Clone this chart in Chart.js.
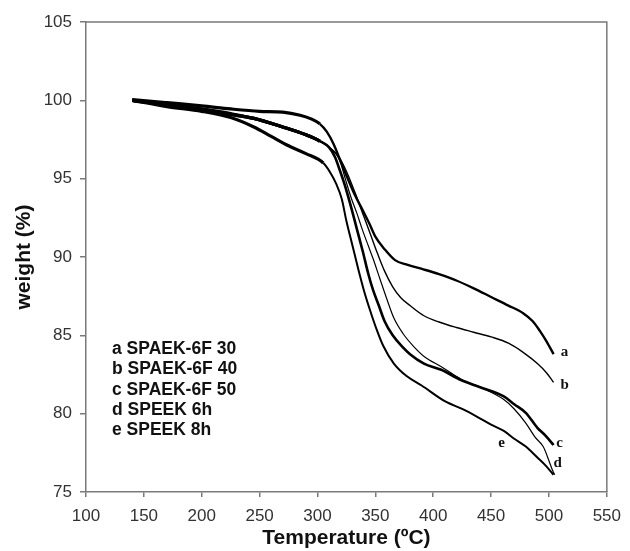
<!DOCTYPE html>
<html>
<head>
<meta charset="utf-8">
<script src="https://cdn.jsdelivr.net/npm/chart.js@4.4.1/dist/chart.umd.min.js"></script>
<style>
html,body{margin:0;padding:0;background:#fff;}
#wrap{width:630px;height:551px;}
</style>
</head>
<body>
<div id="wrap"><canvas id="c" width="630" height="551"></canvas></div>
<script>
// ---- data ----
const xTicks = [100,150,200,250,300,350,400,450,500,550];
const yTicks = [75,80,85,90,95,100,105];

const tempA   = [140,170,200,225,250,270,285,295,302,308,314,319,325,332,339,345,350,358,367,378,392,405,420,435,450,465,478,486,492,498,504];
const weightA = [100.05,99.85,99.65,99.45,99.3,99.25,99.05,98.8,98.5,98.0,97.2,96.3,95.2,94.0,93.0,92.1,91.3,90.5,89.8,89.5,89.2,88.9,88.5,88.0,87.45,86.9,86.4,85.9,85.3,84.6,83.8];

const tempB   = [140,170,200,225,245,270,290,302,312,320,326,333,340,346,352,358,365,372,380,392,405,420,435,450,465,478,490,498,504];
const weightB = [100.0,99.75,99.45,99.15,98.85,98.3,97.8,97.4,96.9,96.2,95.3,94.0,92.6,91.4,90.2,89.1,88.1,87.4,86.9,86.25,85.85,85.5,85.2,84.9,84.5,83.9,83.2,82.6,82.0];

const tempC   = [140,170,200,225,245,270,290,302,310,315,319,324,329,334,339,344,348,353,358,365,373,380,392,407,424,440,461,470,480,490,497,504];
const weightC = [100.0,99.7,99.4,99.1,98.85,98.3,97.8,97.4,97.0,96.4,95.6,94.5,93.2,91.8,90.4,88.9,87.9,86.9,85.9,85.0,84.3,83.8,83.2,82.8,82.15,81.7,81.1,80.6,80.05,79.1,78.6,78.0];

const tempD   = [140,170,200,225,245,270,290,302,310,316,320,324,329,334,339,344,348,354,360,366,374,383,393,407,424,440,461,470,480,488,495,500,503,505];
const weightD = [100.0,99.7,99.4,99.1,98.85,98.3,97.8,97.4,97.0,96.6,96.0,95.0,93.8,92.8,91.7,90.7,89.9,88.6,87.3,86.1,85.1,84.3,83.6,83.0,82.2,81.7,80.9,80.3,79.4,78.5,77.9,77.0,76.4,76.1];

const tempE   = [140,170,200,225,245,260,275,290,305,311,316,321,325,330,335,340,345,351,357,366,377,390,410,425,438,450,461,470,480,490,497,504];
const weightE = [100.0,99.6,99.3,98.9,98.3,97.7,97.1,96.6,96.0,95.4,94.7,93.7,92.3,90.8,89.3,87.9,86.7,85.4,84.3,83.2,82.4,81.8,80.8,80.3,79.8,79.3,78.9,78.4,77.9,77.2,76.7,76.1];

const seriesNames = ['a SPAEK-6F 30','b SPAEK-6F 40','c SPAEK-6F 50','d SPEEK 6h','e SPEEK 8h'];
const endLabels = ['a','b','c','d','e'];

// ---- chart ----
function pts(t,w){ return t.map((v,i)=>({x:v,y:w[i]})); }
const widths = [2.4,1.4,2.6,1.2,2.0];
const sets = [[tempA,weightA],[tempB,weightB],[tempC,weightC],[tempD,weightD],[tempE,weightE]];

const datasets = sets.map((s,i)=>({
  label: seriesNames[i],
  data: pts(s[0],s[1]),
  borderColor: '#000',
  borderWidth: widths[i],
  pointRadius: 0,
  showLine: true,
  fill: false,
  cubicInterpolationMode: 'monotone',
  segment: {
    borderWidth: c => (c.p0.parsed.x < 300 ? 3.2 : widths[i])
  }
}));

const AXIS = '#7a7a7a';
const TICKFONT = {family: '"Liberation Sans", Arial, sans-serif', size: 17};
const TITLEFONT = {family: '"Liberation Sans", Arial, sans-serif', size: 21, weight: 'bold'};

const annot = {
  id: 'annot',
  afterDraw(chart){
    const {ctx, chartArea:a, scales:{x,y}} = chart;
    ctx.save();
    // frame top/right
    ctx.strokeStyle = AXIS; ctx.lineWidth = 1.5;
    ctx.beginPath();
    ctx.moveTo(a.left, a.top); ctx.lineTo(a.right, a.top); ctx.lineTo(a.right, a.bottom);
    ctx.stroke();
    // legend block
    ctx.fillStyle = '#111';
    ctx.font = 'bold 17.5px "Liberation Sans", Arial, sans-serif';
    ctx.textBaseline = 'middle'; ctx.textAlign = 'left';
    seriesNames.forEach((s,i)=>{ ctx.fillText(s, 112, 349 + i*20.4); });
    // end labels
    ctx.font = 'bold 15px "Liberation Serif", "Times New Roman", serif';
    ctx.textAlign = 'center';
    const offs = [[11,-2],[11,3],[6,-2],[3,-12]];
    sets.slice(0,4).forEach((s,i)=>{
      const n = s[0].length-1;
      const px = x.getPixelForValue(s[0][n]) + offs[i][0];
      const py = y.getPixelForValue(s[1][n]) + offs[i][1];
      ctx.fillText(endLabels[i], px, py);
    });
    ctx.fillText(endLabels[4], x.getPixelForValue(459), y.getPixelForValue(78.1));
    ctx.restore();
  }
};

new Chart(document.getElementById('c'), {
  type: 'scatter',
  data: {datasets},
  options: {
    responsive: false,
    animation: false,
    events: [],
    layout: {padding: {left: 0, right: 15, top: 22, bottom: 0}},
    plugins: {legend: {display: false}, tooltip: {enabled: false}},
    scales: {
      x: {
        type: 'linear', min: 100, max: 550,
        afterBuildTicks: s => { s.ticks = xTicks.map(v=>({value:v})); },
        afterFit: s => { s.height = 59; },
        border: {display: true, color: AXIS, width: 1.5},
        grid: {display: true, drawOnChartArea: false, drawTicks: true, tickLength: 5, color: AXIS, lineWidth: 1.5},
        ticks: {color: '#333', font: TICKFONT, padding: 9, maxRotation: 0, autoSkip: false},
        title: {display: true, text: 'Temperature (ºC)', color: '#111', font: TITLEFONT, padding: {top: 0, bottom: 0}}
      },
      y: {
        type: 'linear', min: 75, max: 105,
        afterBuildTicks: s => { s.ticks = yTicks.map(v=>({value:v})); },
        afterFit: s => { s.width = 86; },
        border: {display: true, color: AXIS, width: 1.5},
        grid: {display: true, drawOnChartArea: false, drawTicks: true, tickLength: 6, color: AXIS, lineWidth: 1.5},
        ticks: {color: '#333', font: TICKFONT, padding: 8, autoSkip: false},
        title: {display: true, text: 'weight (%)', color: '#111', font: TITLEFONT, padding: {top: 12, bottom: 0}}
      }
    }
  },
  plugins: [annot]
});
</script>
</body>
</html>
